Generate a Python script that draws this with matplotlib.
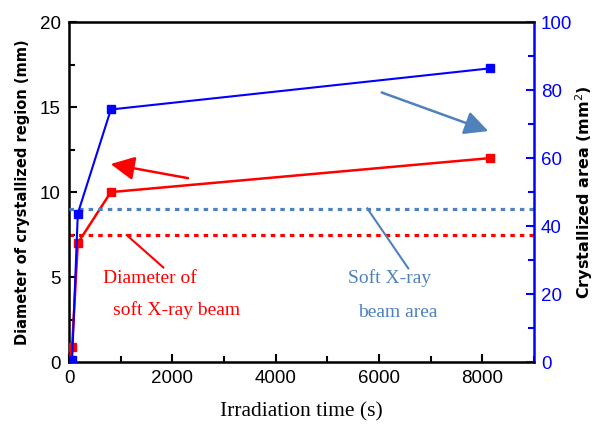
import matplotlib
matplotlib.use("Agg")
import matplotlib.pyplot as plt
from matplotlib.ticker import MultipleLocator

# tempo de irradiação (s)
tempo = [0, 60, 170, 810, 8150]
# diâmetro da região cristalizada (mm), eixo esquerdo
diametro = [0.0, 0.9, 7.0, 10.0, 12.0]
# área cristalizada (mm^2), eixo direito
area = [0.3, 0.6, 43.7, 74.3, 86.4]

diametro_feixe = 7.5   # mm
area_feixe = 45.0      # mm^2

AZUL = "#0000ff"
VERMELHO = "#ff0000"
AZUL_CLARO = "#4f81bd"

fig = plt.figure(figsize=(5.96, 4.25), dpi=100)
ax = fig.add_axes([0.1158, 0.148, 0.7802, 0.80])
ax2 = ax.twinx()

# linhas de referência do feixe
ax.plot([0, 9000], [diametro_feixe] * 2, color=VERMELHO, lw=2.3,
        linestyle=(0, (1.4, 1.6)), zorder=2)
ax2.plot([0, 9000], [area_feixe] * 2, color=AZUL_CLARO, lw=2.3,
         linestyle=(0, (1.4, 1.6)), zorder=2)

ax.plot(tempo, diametro, color=VERMELHO, lw=1.8, marker="s", ms=5.5, zorder=3)
ax2.plot(tempo, area, color=AZUL, lw=1.5, marker="s", ms=5.5, zorder=3)

ax.set_xlim(0, 9000)
ax.set_ylim(0, 20)
ax2.set_ylim(0, 100)

ax.xaxis.set_major_locator(MultipleLocator(2000))
ax.xaxis.set_minor_locator(MultipleLocator(1000))
ax.yaxis.set_major_locator(MultipleLocator(5))
ax.yaxis.set_minor_locator(MultipleLocator(2.5))
ax2.yaxis.set_major_locator(MultipleLocator(20))
ax2.yaxis.set_minor_locator(MultipleLocator(10))

ax.tick_params(axis="both", which="both", direction="in", width=1.5,
               labelsize=13.5, pad=6)
ax.tick_params(which="major", length=6)
ax.tick_params(which="minor", length=4)
ax.tick_params(axis="x", top=False, which="both")
ax.tick_params(axis="y", right=False, which="both")
ax2.tick_params(axis="y", which="both", direction="in", colors=AZUL,
                width=1.5, labelsize=13.5, pad=5)
ax2.tick_params(which="major", length=6)
ax2.tick_params(which="minor", length=4)
for lbl in ax.get_xticklabels() + ax.get_yticklabels() + ax2.get_yticklabels():
    lbl.set_fontfamily("Liberation Sans")

for lado in ["left", "bottom", "top"]:
    ax.spines[lado].set_linewidth(1.8)
ax2.spines["right"].set_color(AZUL)
ax2.spines["right"].set_linewidth(1.8)
ax2.spines["left"].set_visible(False)
ax.spines["right"].set_visible(False)

ax.set_xlabel("Irradiation time (s)", family="Liberation Serif", fontsize=15.5,
              labelpad=11)
ax.set_ylabel("Diameter of crystallized region (mm)", family="DejaVu Sans",
              fontsize=10.5, fontweight="bold", labelpad=7)
ax2.set_ylabel("Crystallized area (mm$^2$)", family="DejaVu Sans",
               fontsize=11.5, fontweight="bold", labelpad=1)

# setas indicando o eixo de cada curva
ax.annotate("", xy=(807, 11.65), xytext=(2303, 10.82),
            arrowprops=dict(arrowstyle="-|>", color=VERMELHO, lw=1.8,
                            mutation_scale=36, shrinkA=0, shrinkB=0))
ax.annotate("", xy=(8115, 13.59), xytext=(6052, 15.86),
            arrowprops=dict(arrowstyle="-|>", color=AZUL_CLARO, lw=1.8,
                            mutation_scale=36, shrinkA=0, shrinkB=0))

# linhas de chamada
ax.plot([1117, 1825], [7.47, 5.57], color=VERMELHO, lw=1.5, zorder=4)
ax.plot([5773, 6567], [9.04, 5.51], color=AZUL_CLARO, lw=1.5, zorder=4)

fonte_texto = dict(family="Liberation Serif", fontsize=14, va="center", ha="left")
ax.text(658, 4.94, "Diameter of", color=VERMELHO, **fonte_texto)
ax.text(852, 3.06, "soft X-ray beam", color=VERMELHO, **fonte_texto)
ax.text(5400, 4.94, "Soft X-ray", color=AZUL_CLARO, **fonte_texto)
ax.text(5593, 2.94, "beam area", color=AZUL_CLARO, **fonte_texto)

fig.savefig("out.png", dpi=100)
